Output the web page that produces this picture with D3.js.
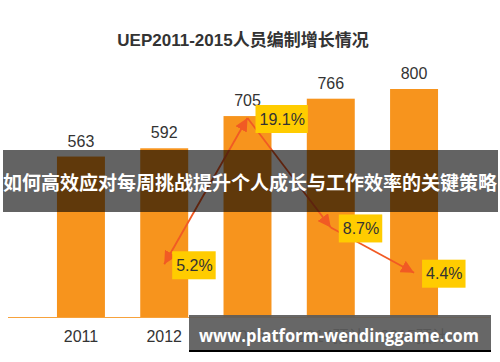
<!DOCTYPE html>
<html><head><meta charset="utf-8">
<script src="https://cdn.jsdelivr.net/npm/d3@7"></script>
<style>
html,body{margin:0;padding:0;background:#fff;}
svg{display:block;}
</style></head>
<body>
<script>
const years = ["2011","2012","2013","2014","2015"];
const yearLabels = ["2011","2012","2013","2014预计","2015预计"];
const staff = [563, 592, 705, 766, 800];
const growthYears = ["2012","2013","2014","2015"];
const growth = [5.2, 19.1, 8.7, 4.4];
const titleText = "UEP2011-2015人员编制增长情况";
const bannerText = "如何高效应对每周挑战提升个人成长与工作效率的关键策略";
const watermarkText = "www.platform-wendinggame.com";

const W = 500, H = 362;
const baseY = 317;
const svg = d3.select("body").append("svg").attr("width", W).attr("height", H);
const font = "'Liberation Sans', Arial, 'Noto Sans CJK SC', sans-serif";

const x = d3.scaleBand().domain(years).range([39.3, 455.7]).paddingInner(0.424).paddingOuter(0.212);
const y = d3.scaleLinear().domain([0, 800]).range([baseY, 89]);
const y2 = d3.scaleLinear().domain([0, 19.1]).range([319, 118]);

// title
svg.append("text").attr("x", 243).attr("y", 46).attr("text-anchor", "middle")
  .attr("font-family", font).attr("font-weight", "bold").attr("font-size", 17)
  .attr("fill", "#333").text(titleText);

// bars
svg.selectAll("rect.bar").data(staff).join("rect").attr("class", "bar")
  .attr("x", (d, i) => x(years[i])).attr("width", x.bandwidth())
  .attr("y", d => y(d)).attr("height", d => baseY - y(d))
  .attr("fill", "#f7941d");

// baseline
svg.append("line").attr("x1", 8).attr("x2", 490).attr("y1", baseY + 0.5).attr("y2", baseY + 0.5)
  .attr("stroke", "#f7a23c").attr("stroke-width", 1.2);

// value labels
svg.selectAll("text.val").data(staff).join("text").attr("class", "val")
  .attr("x", (d, i) => x(years[i]) + x.bandwidth() / 2).attr("y", d => y(d) - 10)
  .attr("text-anchor", "middle").attr("font-family", font).attr("font-size", 16)
  .attr("fill", "#333").text(d => d);

// x axis labels
const xAxis = d3.axisBottom(x).tickSize(0).tickPadding(0).tickFormat((d, i) => yearLabels[i]);
const gx = svg.append("g").attr("transform", `translate(0,${baseY + 14})`).call(xAxis);
gx.select(".domain").remove();
gx.selectAll("text").attr("font-family", font).attr("font-size", 16).attr("fill", "#333").attr("dy", "0.71em");

// arrow markers
const defs = svg.append("defs");
defs.append("marker").attr("id", "arr").attr("viewBox", "0 0 12 12")
  .attr("refX", 12).attr("refY", 6).attr("markerWidth", 13).attr("markerHeight", 13)
  .attr("markerUnits", "userSpaceOnUse").attr("orient", "auto-start-reverse")
  .append("path").attr("d", "M0,0 L12,6 L0,12 Z").attr("fill", "#f15a24");

const pts = growth.map((v, i) => [x(growthYears[i]) + x.bandwidth() / 2, y2(v)]);
for (let i = 0; i < pts.length - 1; i++) {
  const l = svg.append("line")
    .attr("x1", pts[i][0]).attr("y1", pts[i][1]).attr("x2", pts[i + 1][0]).attr("y2", pts[i + 1][1])
    .attr("stroke", "#f15a24").attr("stroke-width", 1.8)
    .attr("marker-end", "url(#arr)");
  if (i === 0) l.attr("marker-start", "url(#arr)");
}

// percent labels
const lab = svg.selectAll("g.pct").data(growth).join("g").attr("class", "pct")
  .attr("transform", (d, i) => `translate(${pts[i][0] + 8},${pts[i][1]})`);
lab.each(function (d) {
  const g = d3.select(this);
  const t = g.append("text").attr("x", 4).attr("y", 1).attr("dy", "0.36em")
    .attr("font-family", font).attr("font-size", 16).attr("fill", "#333").text(d.toFixed(1) + "%");
  const w = t.node().getComputedTextLength();
  g.insert("rect", "text").attr("x", 0).attr("y", -13).attr("width", w + 7).attr("height", 28).attr("fill", "#ffcc00");
});

// banner overlay
svg.append("rect").attr("x", 3).attr("y", 150).attr("width", 495).attr("height", 62)
  .attr("fill", "rgba(0,0,0,0.61)");
svg.append("text").attr("x", 250).attr("y", 190).attr("text-anchor", "middle")
  .attr("font-family", "'Noto Sans CJK SC', sans-serif").attr("font-weight", "bold").attr("font-size", 19)
  .attr("textLength", 494).attr("lengthAdjust", "spacingAndGlyphs")
  .attr("fill", "#fff").text(bannerText);

// watermark
svg.append("rect").attr("x", 189).attr("y", 315).attr("width", 302).attr("height", 37)
  .attr("fill", "rgba(90,90,90,0.92)");
svg.append("rect").attr("x", 189).attr("y", 350).attr("width", 302).attr("height", 2).attr("fill", "#000");
svg.append("text").attr("x", 339).attr("y", 342).attr("text-anchor", "middle")
  .attr("font-family", "'Open Sans', 'DejaVu Sans', sans-serif").attr("font-weight", "bold").attr("font-size", 17)
  .attr("textLength", 280).attr("lengthAdjust", "spacingAndGlyphs")
  .attr("fill", "#fff").text(watermarkText);
</script>
</body></html>
